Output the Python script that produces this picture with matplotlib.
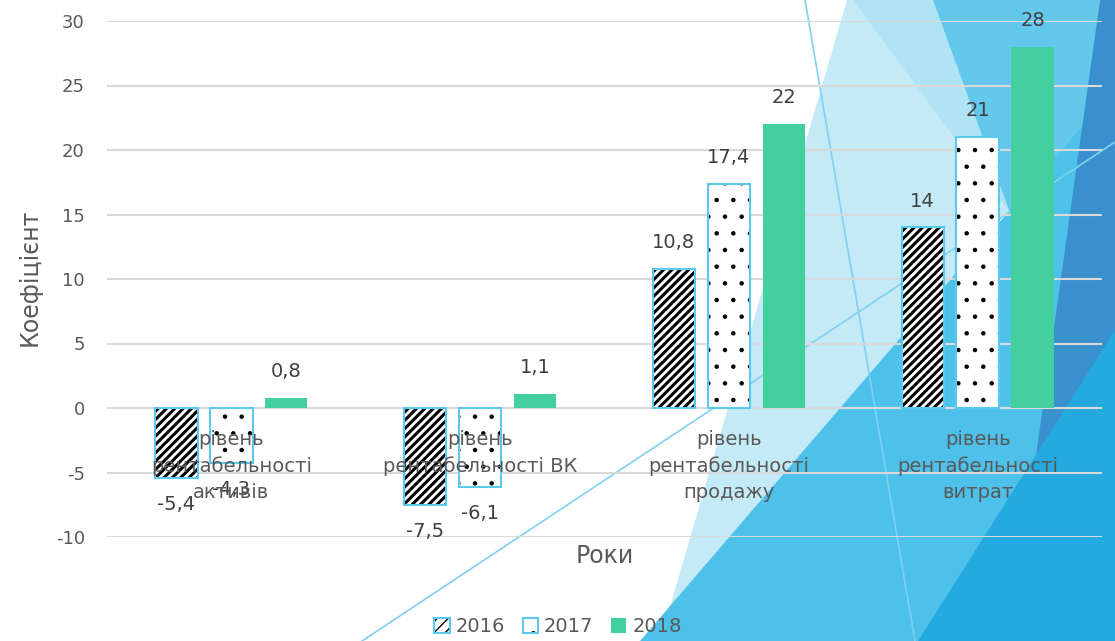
import numpy as np
import matplotlib
matplotlib.use("Agg")
import matplotlib.pyplot as plt
from matplotlib.patches import Patch, Polygon
from matplotlib.legend_handler import HandlerTuple

# data
categories = ["рівень\nрентабельності\nактивів", "рівень\nрентабельності ВК",
              "рівень\nрентабельності\nпродажу", "рівень\nрентабельності\nвитрат"]
years = ["2016", "2017", "2018"]
v2016 = [-5.4, -7.5, 10.8, 14]
v2017 = [-4.3, -6.1, 17.4, 21]
v2018 = [0.8, 1.1, 22, 28]
yticks = [-10, -5, 0, 5, 10, 15, 20, 25, 30]

plt.rcParams['font.family'] = ['DejaVu Sans']
plt.rcParams['axes.unicode_minus'] = False

W, H = 1115, 641
fig = plt.figure(figsize=(W / 100, H / 100), dpi=100)

# background decoration (slide theme), pixel coords
bg = fig.add_axes([0, 0, 1, 1], zorder=0)
bg.set_xlim(0, W); bg.set_ylim(H, 0); bg.axis('off')
shapes = [
    ([(847, 0), (1115, 0), (1115, 641), (660, 641)], '#C4EAF7'),
    ([(853, 0), (933, 0), (1010, 213)], '#B0E4F5'),
    ([(933, 0), (1100, 0), (1080, 150), (1010, 213)], '#63C8EC'),
    ([(640, 641), (1115, 88), (1115, 641)], '#4EC1EA'),
    ([(1100, 0), (1115, 0), (1115, 641), (1010, 641)], '#3A90CD'),
    ([(918, 641), (1115, 330), (1115, 641)], '#25AADF'),
]
for pts, c in shapes:
    bg.add_patch(Polygon(pts, closed=True, facecolor=c, edgecolor='none'))
bg.plot([805, 915], [0, 641], color='#7ED2EF', lw=1.2)
bg.plot([362, 1115], [641, 142], color='#7ED2EF', lw=1.2)

ax = fig.add_axes([107 / W, 1 - 537 / H, 995 / W, 516 / H], zorder=1)
ax.set_facecolor('none')

x = np.arange(len(categories))
w = 0.17
step = 0.221
edge_blue = '#5BC8EE'
green = '#43D0A0'


def hatched(patches, lw):
    for p in patches:
        if hasattr(p, 'set_hatch_linewidth'):
            p.set_hatch_linewidth(lw)


with plt.rc_context({'hatch.linewidth': 2.2}):
    b16 = ax.bar(x - step, v2016, w, color='white', edgecolor='black', hatch='////', lw=0, zorder=3)
hatched(b16, 2.2)
ax.bar(x - step, v2016, w, color='none', edgecolor=edge_blue, lw=1.5, zorder=4)
with plt.rc_context({'hatch.linewidth': 0.8}):
    b17 = ax.bar(x, v2017, w, color='white', edgecolor='black', hatch='.', lw=0, zorder=3)
hatched(b17, 0.8)
ax.bar(x, v2017, w, color='none', edgecolor=edge_blue, lw=1.5, zorder=4)
ax.bar(x + step, v2018, w, color=green, lw=0, zorder=3)


def fmt(v):
    if float(v).is_integer():
        return str(int(v))
    return str(v).replace('.', ',')


for off, vals in zip([-step, 0, step], [v2016, v2017, v2018]):
    for xi, v in zip(x, vals):
        ax.annotate(fmt(v), (xi + off, v), xytext=(0, 19 if v > 0 else -19),
                    textcoords='offset points', ha='center', va='center',
                    fontsize=14, color='#404040', zorder=5)

for xi, lab in zip(x, categories):
    ax.annotate(lab, (xi, 0), xytext=(0, -16), textcoords='offset points',
                ha='center', va='top', fontsize=14, color='#595959',
                linespacing=1.45, zorder=5)

ax.set_xlim(-0.5, 3.5)
ax.set_ylim(-10, 30)
ax.set_yticks(yticks)
ax.set_xticks([])
ax.tick_params(axis='y', length=0, pad=16, labelsize=13, labelcolor='#595959')
ax.yaxis.grid(True, color='#D9D9D9', lw=1.5, zorder=0)
ax.set_axisbelow(True)
for s in ax.spines.values():
    s.set_visible(False)

fig.text(30 / W, 1 - 277 / H, 'Коефіцієнт', rotation=90, ha='center', va='center',
         fontsize=17, color='#595959')
fig.text(605 / W, 1 - 556 / H, 'Роки', ha='center', va='center',
         fontsize=17, color='#595959')

with plt.rc_context({'hatch.linewidth': 2.0}):
    h16 = (Patch(facecolor='white', edgecolor='black', hatch='///', lw=0),
           Patch(facecolor='none', edgecolor=edge_blue, lw=1.5))
with plt.rc_context({'hatch.linewidth': 0.8}):
    h17 = (Patch(facecolor='white', edgecolor='black', hatch='.', lw=0),
           Patch(facecolor='none', edgecolor=edge_blue, lw=1.5))
h18 = Patch(facecolor=green, lw=0)
fig.legend([h16, h17, h18], years, handler_map={tuple: HandlerTuple(ndivide=1, pad=0)},
           loc='center', bbox_to_anchor=(558 / W, 1 - 627 / H), ncol=3,
           frameon=False, fontsize=14, labelcolor='#595959',
           handlelength=0.8, handleheight=0.8, handletextpad=0.3, columnspacing=0.9)

fig.savefig('out.png', dpi=100)
